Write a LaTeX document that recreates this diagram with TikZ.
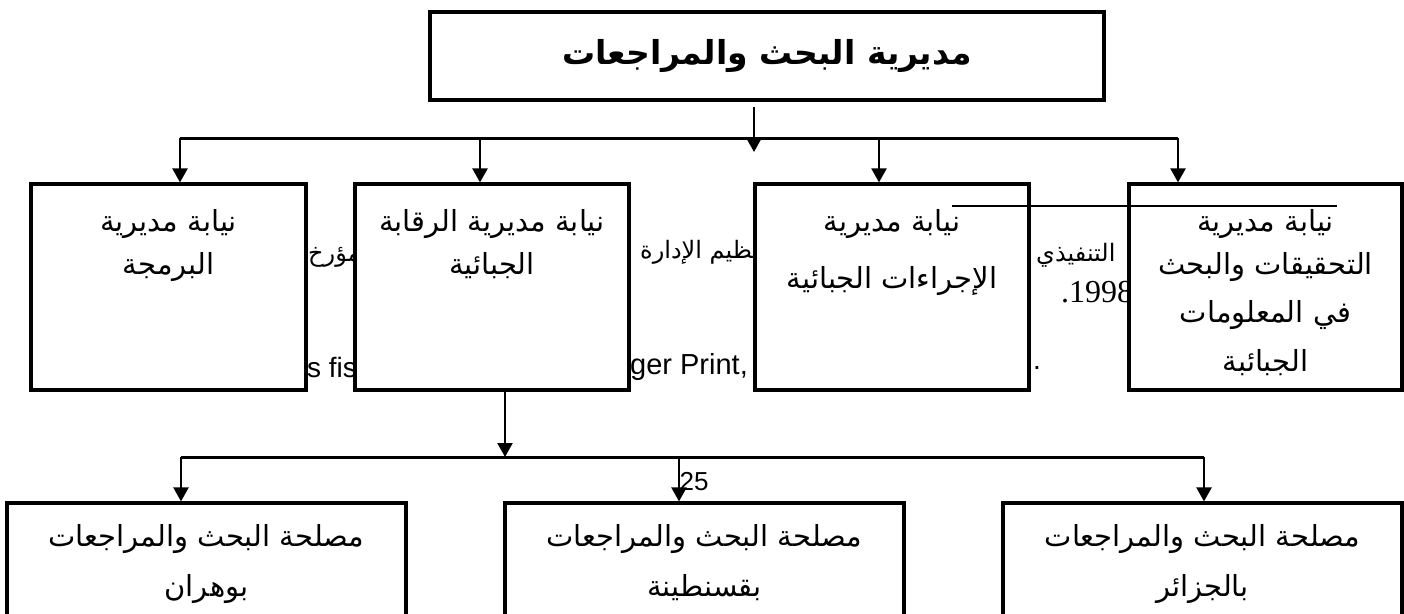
\documentclass[tikz,border=0pt]{standalone}
\usepackage{fontspec}
\setmainfont{Liberation Sans}
\newfontfamily\arabicfont[Script=Arabic]{DejaVu Sans}
\newfontfamily\timesfont{Liberation Serif}
\TeXXeTstate=1
\usetikzlibrary{arrows.meta, calc, positioning}
\newcommand{\artext}[1]{{\arabicfont\beginR #1\endR}}

\tikzset{
	unitbox/.style={draw, line width=3.2pt, fill=white, inner sep=0pt},
	boxtext/.style={font={\fontsize{29}{43}\selectfont}, align=center, inner sep=0pt, anchor=north},
	link/.style={line width=2.3pt, -{Triangle[length=14pt, width=15pt]}},
	bus/.style={line width=3pt},
	ghost/.style={font={\fontsize{24}{28}\selectfont}, inner sep=0pt, anchor=west},
}

\begin{document}
\begin{tikzpicture}[x=1pt, y=-1pt]

	\useasboundingbox (0,0) rectangle (1404,613);
	\clip (0,0) rectangle (1404,613);

	% page text showing between the boxes
	\node[ghost] (g1) at (308,257) {\artext{مؤرخ}};
	\node[ghost] (g2) at (640,252) {\artext{تنظيم الإدارة}};
	\node[ghost] (g3) at (1036,255) {\artext{التنفيذي}};
	\node[ghost, font={\timesfont\fontsize{32}{36}\selectfont}] (g4) at (1061,292) {.1998};
	\node[ghost, font={\fontsize{28}{32}\selectfont}] (g5) at (307,367) {s fis};
	\node[ghost, font={\fontsize{29}{32}\selectfont}] (g6) at (630,367) {ger Print,};
	\node[ghost, font={\fontsize{28}{32}\selectfont}] (g7) at (1033,368) {.};
	\node[ghost, font={\fontsize{26}{30}\selectfont}, anchor=center] (g8) at (694,482) {25};

	% top box
	\node[unitbox, minimum width=674pt, minimum height=88pt, font={\bfseries\fontsize{33}{36}\selectfont}] (dir) at (767,56) {\artext{مديرية البحث والمراجعات}};

	% second row
	\node[unitbox, minimum width=275pt, minimum height=206pt] (prog) at (168.5,287) {};
	\node[unitbox, minimum width=274pt, minimum height=206pt] (ctrl) at (492,287) {};
	\node[unitbox, minimum width=274pt, minimum height=206pt] (proc) at (892,287) {};
	\node[unitbox, minimum width=273pt, minimum height=206pt] (inv) at (1265.5,287) {};

	\node[boxtext] (progt) at ([yshift=-27pt]prog.north) {\artext{نيابة مديرية}\\\artext{البرمجة}};
	\node[boxtext] (ctrlt) at ([yshift=-27pt]ctrl.north) {\artext{نيابة مديرية الرقابة}\\\artext{الجبائية}};
	\node[boxtext] (proct) at ([yshift=-27pt]proc.north) {\artext{نيابة مديرية}\\[14pt]\artext{الإجراءات الجبائية}};
	\node[boxtext] (invt) at ([yshift=-27pt]inv.north) {\artext{نيابة مديرية}\\\artext{التحقيقات والبحث}\\[5pt]\artext{في المعلومات}\\[6pt]\artext{الجبائبة}};

	% third row
	\node[unitbox, minimum width=399pt, minimum height=150pt] (oran) at (206.5,578) {};
	\node[unitbox, minimum width=399pt, minimum height=150pt] (const) at (704.5,578) {};
	\node[unitbox, minimum width=399pt, minimum height=150pt] (alg) at (1202.5,578) {};

	\node[boxtext] (orant) at ([yshift=-23pt]oran.north) {\artext{مصلحة البحث والمراجعات}\\[7pt]\artext{بوهران}};
	\node[boxtext] (constt) at ([yshift=-23pt]const.north) {\artext{مصلحة البحث والمراجعات}\\[7pt]\artext{بقسنطينة}};
	\node[boxtext] (algt) at ([yshift=-23pt]alg.north) {\artext{مصلحة البحث والمراجعات}\\[7pt]\artext{بالجزائر}};

	% first level connectors
	\coordinate (drop) at (754,107);
	\coordinate (dropend) at (754,152);
	\coordinate (busA) at (180,138);
	\coordinate (busB) at (480,138);
	\coordinate (busC) at (879,138);
	\coordinate (busD) at (1178,138);

	\draw[bus] (busA) -- (busD);
	\draw[link] (drop) -- (dropend);
	\draw[link] (busA) -- (busA |- prog.north);
	\draw[link] (busB) -- (busB |- ctrl.north);
	\draw[link] (busC) -- (busC |- proc.north);
	\draw[link] (busD) -- (busD |- inv.north);

	% second level connectors
	\coordinate (hub) at (505,457);
	\coordinate (sbA) at (181,457);
	\coordinate (sbB) at (679,457);
	\coordinate (sbC) at (1204,457);

	\draw[link] (ctrl.south -| hub) -- (hub);
	\draw[bus] (sbA) -- (sbC);
	\draw[link] (sbA) -- (sbA |- oran.north);
	\draw[link] (sbB) -- (sbB |- const.north);
	\draw[link] (sbC) -- (sbC |- alg.north);

	% rule across the right boxes
	\draw[line width=1.6pt] (952,206) -- (1337,206);

\end{tikzpicture}
\end{document}
